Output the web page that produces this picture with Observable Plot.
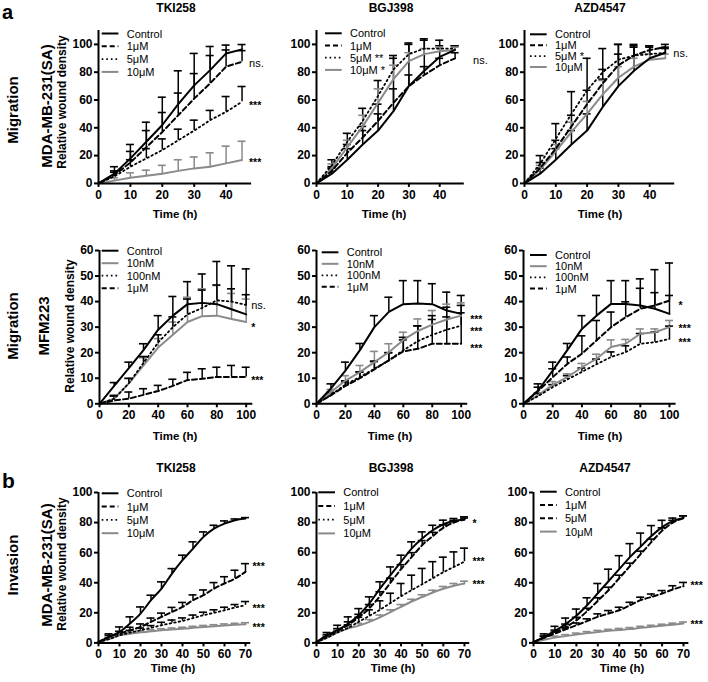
<!DOCTYPE html>
<html><head><meta charset="utf-8">
<script src="https://cdn.jsdelivr.net/npm/d3@7"></script>
<script src="https://cdn.jsdelivr.net/npm/@observablehq/plot@0.6"></script>
<style>
html,body{margin:0;padding:0;background:#fff;}
#fig{position:relative;width:708px;height:682px;overflow:hidden;background:#fff;}
#overlay{position:absolute;left:0;top:0;pointer-events:none;}
</style></head><body><div id="fig"></div>
<script>
// ---------------- DATA ----------------
const DRUGS = ["TKI258", "BGJ398", "AZD4547"];
const ROW_LABELS = [["Migration", "MDA-MB-231(SA)"], ["Migration", "MFM223"], ["Invasion", "MDA-MB-231(SA)"]];
const Y_LABEL = "Relative wound density";
const X_LABEL = "Time (h)";

// time points
const T_MIG_MDA = [0, 5, 10, 15, 20, 25, 30, 35, 40, 45];
const T_MIG_MFM = [0, 10, 20, 30, 40, 50, 60, 70, 80, 90, 100];
const T_INV = [0, 5, 10, 15, 20, 25, 30, 35, 40, 45, 50, 55, 60, 65, 70];

// tick labels
const XTICKS_MIG_MDA = [0, 10, 20, 30, 40];
const YTICKS_MIG_MDA = [0, 20, 40, 60, 80, 100];
const XTICKS_MIG_MFM = [0, 20, 40, 60, 80, 100];
const YTICKS_MIG_MFM = [0, 10, 20, 30, 40, 50, 60];
const XTICKS_INV = [0, 10, 20, 30, 40, 50, 60, 70];
const YTICKS_INV = [0, 20, 40, 60, 80, 100];

// legend labels
const LEG_MIG_MDA_TKI = ["Control", "1μM", "5μM", "10μM"];
const LEG_MIG_MDA_BGJ = ["Control", "1μM", "5μM **", "10μM *"];
const LEG_MIG_MDA_AZD = ["Control", "1μM", "5μM *", "10μM"];
const LEG_MIG_MFM = ["Control", "10nM", "100nM", "1μM"];
const LEG_INV = ["Control", "1μM", "5μM", "10μM"];

// ---- Migration, MDA-MB-231(SA) (series: Control, 1μM, 5μM, 10μM)
const MIG_MDA_TKI_MEAN = [
  [0, 7, 18, 30, 42, 57, 70.5, 81.5, 93.5, 96.4],
  [0, 6, 15, 26, 37, 49, 61, 72, 84, 87.5],
  [0, 5, 12, 18, 24, 31, 38, 45.5, 51.5, 58.7],
  [0, 2, 4, 5.5, 7, 9, 10.8, 12, 14.4, 16.8]];
const MIG_MDA_TKI_ERR = [
  [0, 5, 10, 14, 20, 24, 23, 17, 6, 3.5],
  [0, 3, 8, 12, 14, 16, 18, 20, 12, 8],
  [0, 3, 5, 7, 8, 8, 7.5, 7, 11, 11],
  [0, 2, 3.6, 4, 6, 8, 8.2, 10, 12.4, 13.5]];
const MIG_MDA_BGJ_MEAN = [
  [0, 7, 17, 28, 38, 52, 70, 81, 91, 96],
  [0, 9, 22, 33, 45, 58, 70, 78, 85, 90],
  [0, 13, 30, 45, 63, 82, 93, 97, 97, 97],
  [0, 11, 26, 41, 58, 75, 88, 93, 95, 96]];
const MIG_MDA_BGJ_ERR = [
  [0, 4, 8, 10, 12, 38, 30, 22, 8, 3],
  [0, 3, 6, 8, 12, 10, 8, 6, 5, 4],
  [0, 4, 6, 9, 11, 10, 8, 7, 6, 2],
  [0, 3, 5, 8, 10, 10, 6, 4, 3, 2]];
const MIG_MDA_AZD_MEAN = [
  [0, 7, 17, 28, 38, 55, 70, 81, 90, 94],
  [0, 11, 25, 41, 57, 72, 85, 92, 96, 98],
  [0, 14, 32, 50, 67, 80, 89, 92, 93, 94],
  [0, 10, 23, 37, 50, 64, 76, 84, 89, 90]];
const MIG_MDA_AZD_ERR = [
  [0, 4, 8, 10, 12, 20, 30, 18, 8, 3],
  [0, 4, 6, 8, 10, 10, 8, 6, 3, 2],
  [0, 6, 11, 16, 23, 17, 11, 8, 6, 4],
  [0, 3, 5, 7, 9, 10, 8, 6, 4, 3]];

// ---- Migration, MFM223 (series: Control, 10nM, 100nM, 1μM)
const MIG_MFM_TKI_MEAN = [
  [0, 7, 14, 21, 29, 34.5, 39, 39.5, 39, 37, 35],
  [0, 2, 8, 15, 22, 27, 32, 34.3, 34.5, 33.2, 32],
  [0, 2, 8, 16, 24, 30, 35, 37.5, 40.5, 40, 38.7],
  [0, 1.3, 2, 3.5, 5, 7, 9.3, 9.8, 10.5, 10.5, 10.5]];
const MIG_MFM_TKI_ERR = [
  [0, 1.3, 2.3, 2.5, 5.5, 7.5, 8.8, 11.3, 16.7, 17, 17.8],
  [0, 1, 1.8, 3, 3.5, 5, 9.7, 10.7, 11.8, 10, 9],
  [0, 1, 2, 2.5, 3, 4, 6, 7, 6, 5, 4],
  [0, 2, 2.6, 2.4, 2.2, 2.6, 3, 3.9, 3.8, 4.5, 3.8]];
const MIG_MFM_BGJ_MEAN = [
  [0, 6, 13, 21, 30, 36, 39, 39.3, 39, 36.5, 35.2],
  [0, 4.6, 9.1, 12.4, 16.3, 20.2, 25, 28.5, 31, 33, 34.5],
  [0, 3.5, 7.5, 10.5, 13.7, 17, 21, 24.5, 27, 29, 30.6],
  [0, 3.3, 7, 10, 13.5, 17, 20.5, 21.5, 23.5, 23.5, 23.5]];
const MIG_MFM_BGJ_ERR = [
  [0, 1.8, 3.3, 2.6, 4.5, 5.7, 9.2, 8.9, 8, 7.2, 7.2],
  [0, 1, 1.9, 2.6, 4.2, 3.3, 3, 4.7, 5.5, 6, 5],
  [0, 1, 1.5, 2, 3, 3, 5, 6, 6, 5, 5],
  [0, 1, 1.5, 2.4, 3, 3, 4.5, 9, 11, 14.3, 15]];
const MIG_MFM_AZD_MEAN = [
  [0, 5.2, 13, 21, 29.3, 34.5, 39.1, 39.1, 38.5, 37.2, 35.2],
  [0, 3.3, 7.4, 10.4, 14.3, 17.6, 22.2, 23.5, 27.4, 28, 30],
  [0, 3, 6.5, 9.5, 12.5, 15.5, 18.3, 20.2, 23.5, 24.1, 25.4],
  [0, 5, 10.4, 15.6, 19.6, 24.8, 30, 33.9, 37.2, 38.5, 40.4]];
const MIG_MFM_AZD_ERR = [
  [0, 2.6, 3.3, 2.6, 5.2, 7.9, 9.1, 9.1, 10.4, 15.3, 19.9],
  [0, 1, 1.3, 1.3, 1.5, 1.8, 2.8, 1.7, 1.9, 1.3, 2.6],
  [0, 1, 1, 1.5, 1.5, 2, 2, 2.5, 4, 4, 5],
  [0, 1.5, 3.3, 2.7, 7, 7.8, 5.9, 6, 8, 5, 2]];

// ---- Invasion, MDA-MB-231(SA) (series: Control, 1μM, 5μM, 10μM)
const INV_TKI_MEAN = [
  [0.5, 4, 7.3, 12.9, 19.5, 28.4, 36.1, 46.1, 55, 62.7, 70.5, 76, 79.3, 81.6, 82.7],
  [0.5, 4, 6.2, 8.4, 10.6, 14, 17.3, 20.6, 23.9, 28.4, 31.7, 36.1, 39.5, 42.8, 47.2],
  [0.5, 2.5, 5, 6.8, 8.4, 10, 11.7, 13.2, 14.6, 16.5, 18.4, 20, 21.7, 23.5, 25],
  [0.5, 2.5, 5, 6, 7, 7.7, 8.4, 8.9, 9.4, 10, 10.6, 11.1, 11.6, 12, 12.4]];
const INV_TKI_ERR = [
  [0, 2, 3.3, 4.4, 4.4, 3.3, 4.5, 3.3, 3.3, 4.5, 3.3, 2.2, 1.8, 0.8, 0.6],
  [0, 1, 1.5, 2, 2, 2.5, 2.5, 3, 3, 3.5, 3.5, 4, 4.5, 5.5, 5.5],
  [0, 1, 1, 1.5, 1.5, 1.5, 2, 2, 2, 2, 2, 2, 2, 2, 2.5],
  [0, 1, 1, 1, 1, 1, 1, 1, 1, 1, 1, 1, 1, 1, 1]];
const INV_BGJ_MEAN = [
  [0.5, 5.1, 8.4, 12.9, 18.4, 26.2, 36.1, 45, 53.9, 62.7, 69.4, 74.9, 78.9, 81.1, 82],
  [0.5, 4.5, 8, 12, 17, 23, 31, 40, 49, 57, 65, 71, 76.5, 80, 82],
  [0.5, 3.5, 7, 10, 14, 18, 22, 26.5, 31, 35, 39, 43, 47, 50.5, 54],
  [0.5, 3.5, 7, 9.5, 11.5, 14, 17, 20.5, 24, 27.5, 30.5, 33.5, 36, 38, 39.5]];
const INV_BGJ_ERR = [
  [0, 1.8, 3.3, 4.4, 4.4, 4.4, 4.5, 5.5, 4.4, 4.5, 4.4, 3.3, 2.7, 1.6, 1.8],
  [0, 1, 1.5, 2, 2, 2.5, 3, 3, 3, 3, 3, 2.5, 2, 1.5, 1],
  [0, 1, 1.5, 2, 3, 4, 6, 6.5, 8.5, 10, 10.5, 11, 10, 10, 9],
  [0, 1, 1.5, 1.5, 1.5, 1.5, 1.5, 1.5, 1.5, 1.5, 1.5, 1.5, 1.5, 1.5, 1.5]];
const INV_AZD_MEAN = [
  [0.5, 4, 8, 12.5, 18, 25, 33, 41, 49, 57, 64, 71, 77, 81, 83],
  [0.5, 3.5, 7, 10.5, 15, 21, 28, 35, 43, 51, 59, 67, 74.5, 80, 83],
  [0.5, 3.5, 6.2, 9, 11.7, 14.5, 17.3, 19.5, 21.7, 25, 28.4, 30.5, 32.8, 35.5, 37.7],
  [0.5, 2, 3.5, 4.5, 5.5, 6.5, 7.3, 8, 8.6, 9.2, 10, 10.7, 11.4, 12.1, 12.9]];
const INV_AZD_ERR = [
  [0, 2, 3, 4, 4.5, 5, 6.5, 8, 9, 9, 9, 7, 4.5, 2, 1.5],
  [0, 1, 1.5, 2, 2, 2, 2, 2, 2, 2, 2, 2, 2, 1.5, 1.5],
  [0, 1, 1, 1.5, 1.5, 1.5, 2, 2, 2, 2, 2, 2, 2, 2.5, 2.5],
  [0, 1, 1, 1, 1, 1, 1, 1, 1, 1, 1, 1, 1, 1, 1]];

// significance labels (per series) and the level they are written at
const SIG_MIG_MDA_TKI = ["", "ns.", "***", "***"];
const SIGY_MIG_MDA_TKI = [0, 86.5, 58, 16.8];
const SIG_MIG_MDA_BGJ = ["", "ns.", "", ""];
const SIGY_MIG_MDA_BGJ = [0, 88.7, 0, 0];
const SIG_MIG_MDA_AZD = ["", "", "ns.", ""];
const SIGY_MIG_MDA_AZD = [0, 0, 93.7, 0];
const SIG_MIG_MFM_TKI = ["", "*", "ns.", "***"];
const SIGY_MIG_MFM_TKI = [0, 31, 38.5, 10.3];
const SIG_MIG_MFM_BGJ = ["", "***", "***", "***"];
const SIGY_MIG_MFM_BGJ = [0, 34.2, 29.6, 22.6];
const SIG_MIG_MFM_AZD = ["", "***", "***", "*"];
const SIGY_MIG_MFM_AZD = [0, 30.4, 25.2, 39.6];
const SIG_INV_TKI = ["", "***", "***", "***"];
const SIGY_INV_TKI = [0, 52.5, 25, 12.4];
const SIG_INV_BGJ = ["", "*", "***", "***"];
const SIGY_INV_BGJ = [0, 81.6, 56.3, 40.6];
const SIG_INV_AZD = ["", "", "***", "***"];
const SIGY_INV_AZD = [0, 0, 40, 14.3];

// ---------------- STYLES / LAYOUT ----------------
const FONT = '"Liberation Sans", Arial, Helvetica, sans-serif';
const GRAY = "#8a8a8a";
const S_SOLID = {stroke: "#000", dash: null, w: 2};
const S_DASH = {stroke: "#000", dash: "5,3", w: 2};
const S_DOT = {stroke: "#000", dash: "1.6,3", w: 1.8};
const S_GRAY = {stroke: GRAY, dash: null, w: 2};
const STY_A1 = [S_SOLID, S_DASH, S_DOT, S_GRAY];
const STY_A2 = [S_SOLID, S_GRAY, S_DOT, S_DASH];
const STY_B_AZD = [S_SOLID, S_DASH, S_DASH, S_GRAY];

const fig = document.getElementById("fig");

const row1 = {yZero: 183.3, ky: 1.39, yMax: 110, yTicks: YTICKS_MIG_MDA, xTicks: XTICKS_MIG_MDA, xMax: 48, times: T_MIG_MDA, curve: "linear"};
const row2 = {yZero: 403.3, ky: 2.555, yMax: 60, yTicks: YTICKS_MIG_MFM, xTicks: XTICKS_MIG_MFM, xMax: 104.5, times: T_MIG_MFM, curve: "linear"};
const row3 = {yZero: 642.7, ky: 1.504, yMax: 100, yTicks: YTICKS_INV, xTicks: XTICKS_INV, xMax: 72.5, times: T_INV, curve: "monotone-x"};

const panels = [
  {...row1, x0: 98.3, kx: 3.19, means: MIG_MDA_TKI_MEAN, errs: MIG_MDA_TKI_ERR, styles: STY_A1, sig: SIG_MIG_MDA_TKI, sigY: SIGY_MIG_MDA_TKI, sigDx: 7,
    leg: LEG_MIG_MDA_TKI, legX: 101.7, legY: 33.5, legDy: 12.8, title: DRUGS[0], titleX: 176, titleY: 12, xlabX: 175, xlabY: 218},
  {...row1, x0: 316, kx: 3.08, means: MIG_MDA_BGJ_MEAN, errs: MIG_MDA_BGJ_ERR, styles: STY_A1, sig: SIG_MIG_MDA_BGJ, sigY: SIGY_MIG_MDA_BGJ, sigDx: 18,
    leg: LEG_MIG_MDA_BGJ, legX: 325, legY: 33.3, legDy: 12.2, title: DRUGS[1], titleX: 391, titleY: 12, xlabX: 384, xlabY: 218},
  {...row1, x0: 523.7, kx: 3.13, means: MIG_MDA_AZD_MEAN, errs: MIG_MDA_AZD_ERR, styles: STY_A1, sig: SIG_MIG_MDA_AZD, sigY: SIGY_MIG_MDA_AZD, sigDx: 8,
    leg: LEG_MIG_MDA_AZD, legX: 530, legY: 34.3, legDy: 10.9, title: DRUGS[2], titleX: 600, titleY: 12, xlabX: 600, xlabY: 218},
  {...row2, x0: 98.7, kx: 1.467, means: MIG_MFM_TKI_MEAN, errs: MIG_MFM_TKI_ERR, styles: STY_A2, sig: SIG_MIG_MFM_TKI, sigY: SIGY_MIG_MFM_TKI, sigDx: 5,
    leg: LEG_MIG_MFM, legX: 101.7, legY: 250.7, legDy: 12.5, xlabX: 175, xlabY: 440},
  {...row2, x0: 316, kx: 1.447, means: MIG_MFM_BGJ_MEAN, errs: MIG_MFM_BGJ_ERR, styles: STY_A2, sig: SIG_MIG_MFM_BGJ, sigY: SIGY_MIG_MFM_BGJ, sigDx: 9,
    leg: LEG_MIG_MFM, legX: 321.7, legY: 252.3, legDy: 11.5, xlabX: 390, xlabY: 440},
  {...row2, x0: 523.3, kx: 1.46, means: MIG_MFM_AZD_MEAN, errs: MIG_MFM_AZD_ERR, styles: STY_A2, sig: SIG_MIG_MFM_AZD, sigY: SIGY_MIG_MFM_AZD, sigDx: 9,
    leg: LEG_MIG_MFM, legX: 530, legY: 255, legDy: 11.2, xlabX: 600, xlabY: 440},
  {...row3, x0: 98.3, kx: 2.1, means: INV_TKI_MEAN, errs: INV_TKI_ERR, styles: STY_A1, sig: SIG_INV_TKI, sigY: SIGY_INV_TKI, sigDx: 7,
    leg: LEG_INV, legX: 101.7, legY: 493.3, legDy: 13.3, title: DRUGS[0], titleX: 176, titleY: 472, xlabX: 173, xlabY: 672},
  {...row3, x0: 316, kx: 2.114, means: INV_BGJ_MEAN, errs: INV_BGJ_ERR, styles: STY_A1, sig: SIG_INV_BGJ, sigY: SIGY_INV_BGJ, sigDx: 8,
    leg: LEG_INV, legX: 318.3, legY: 492.3, legDy: 13.7, title: DRUGS[1], titleX: 391, titleY: 472, xlabX: 393, xlabY: 672},
  {...row3, x0: 533.3, kx: 2.143, means: INV_AZD_MEAN, errs: INV_AZD_ERR, styles: STY_B_AZD, sig: SIG_INV_AZD, sigY: SIGY_INV_AZD, sigDx: 7,
    leg: LEG_INV, legX: 540, legY: 491.7, legDy: 13.3, title: DRUGS[2], titleX: 605, titleY: 472, xlabX: 622, xlabY: 672}
];

function makePanel(c) {
  const mL = 40, mR = 45, mT = 12, mB = 30;
  const W = mL + c.xMax * c.kx + mR;
  const H = mT + c.yMax * c.ky + mB;
  const capHalf = 4 / c.kx;
  const marks = [];
  // error bars
  c.means.forEach((m, i) => {
    const s = c.styles[i];
    const rows = c.times.map((t, j) => ({t, v: m[j], e: c.errs[i][j]})).filter(d => d.e > 0);
    marks.push(Plot.ruleX(rows, {x: "t", y1: "v", y2: d => d.v + d.e, stroke: s.stroke, strokeWidth: 1.5}));
    marks.push(Plot.ruleY(rows, {y: d => d.v + d.e, x1: d => d.t - capHalf, x2: d => d.t + capHalf, stroke: s.stroke, strokeWidth: 1.6}));
  });
  // lines (gray first so black draws on top)
  const order = c.means.map((_, i) => i).sort((a, b) => (c.styles[a] === S_GRAY ? -1 : 0) - (c.styles[b] === S_GRAY ? -1 : 0));
  order.forEach(i => {
    const s = c.styles[i];
    const rows = c.times.map((t, j) => ({t, v: c.means[i][j]}));
    marks.push(Plot.line(rows, {x: "t", y: "v", stroke: s.stroke, strokeWidth: s.w, strokeDasharray: s.dash, curve: c.curve}));
  });
  // axes
  marks.push(Plot.ruleY([0], {stroke: "#000", strokeWidth: 2}));
  marks.push(Plot.ruleX([0], {stroke: "#000", strokeWidth: 2}));
  marks.push(Plot.axisX({ticks: c.xTicks, tickSize: 4, tickPadding: 3, strokeWidth: 2, label: null, tickFormat: d => String(d)}));
  marks.push(Plot.axisY({ticks: c.yTicks, tickSize: 4, tickPadding: 2, strokeWidth: 2, label: null, tickFormat: d => String(d)}));
  // significance
  const last = c.times[c.times.length - 1];
  const sigRows = c.sig.map((s, i) => ({s, y: c.sigY[i]})).filter(d => d.s);
  marks.push(Plot.text(sigRows.filter(d => d.s !== "ns."), {x: () => last, y: "y", text: "s", textAnchor: "start", dx: c.sigDx, dy: 3, fontSize: 10.5, fontWeight: "bold"}));
  marks.push(Plot.text(sigRows.filter(d => d.s === "ns."), {x: () => last, y: "y", text: "s", textAnchor: "start", dx: c.sigDx, fontSize: 11, fontWeight: "normal"}));

  const svg = Plot.plot({
    width: W, height: H, marginLeft: mL, marginRight: mR, marginTop: mT, marginBottom: mB,
    x: {domain: [0, c.xMax]}, y: {domain: [0, c.yMax]},
    style: {background: "transparent", overflow: "visible", fontFamily: FONT, fontSize: "12px", fontWeight: "bold", color: "#000"},
    marks
  });
  svg.style.position = "absolute";
  svg.style.left = (c.x0 - mL) + "px";
  svg.style.top = (c.yZero - c.yMax * c.ky - mT) + "px";
  svg.style.maxWidth = "none";
  fig.appendChild(svg);
}
panels.forEach(makePanel);

// ---------------- TEXT OVERLAY ----------------
const ov = d3.select(fig).append("svg").attr("id", "overlay").attr("width", 708).attr("height", 682)
  .style("font-family", FONT);

ov.append("text").attr("x", 2).attr("y", 18.5).attr("font-size", 20).attr("font-weight", "bold").text("a");
ov.append("text").attr("x", 2).attr("y", 488).attr("font-size", 21).attr("font-weight", "bold").text("b");

const rowCenters = [
  {y1: 110, y2: 106, y3: 102, x2: 46.7, x3: 61.5},
  {y1: 326, y2: 326, y3: 326, x2: 43, x3: 70},
  {y1: 565, y2: 565, y3: 564, x2: 46.7, x3: 61.5}];
function vtext(x, y, txt, size, weight) {
  ov.append("text").attr("transform", `translate(${x},${y}) rotate(-90)`)
    .attr("text-anchor", "middle").attr("dominant-baseline", "central")
    .attr("font-size", size).attr("font-weight", weight).text(txt);
}
ROW_LABELS.forEach((lab, r) => {
  const rc = rowCenters[r];
  vtext(12, rc.y1, lab[0], 15, "bold");
  vtext(rc.x2, rc.y2, lab[1], 15, "bold");
  vtext(rc.x3, rc.y3, Y_LABEL, 12, "bold");
});

panels.forEach(c => {
  if (c.title) ov.append("text").attr("x", c.titleX).attr("y", c.titleY).attr("text-anchor", "middle")
    .attr("font-size", 12).attr("font-weight", "bold").text(c.title);
  ov.append("text").attr("x", c.xlabX).attr("y", c.xlabY).attr("text-anchor", "middle")
    .attr("font-size", 11.5).attr("font-weight", "bold").text(X_LABEL);
  c.leg.forEach((lab, i) => {
    const s = c.styles[i];
    const y = c.legY + i * c.legDy;
    ov.append("line").attr("x1", c.legX).attr("x2", c.legX + 16.7).attr("y1", y).attr("y2", y)
      .attr("stroke", s.stroke).attr("stroke-width", s.w).attr("stroke-dasharray", s.dash);
    ov.append("text").attr("x", c.legX + 25).attr("y", y).attr("dominant-baseline", "central")
      .attr("font-size", 11).text(lab);
  });
});
</script>
</body></html>
